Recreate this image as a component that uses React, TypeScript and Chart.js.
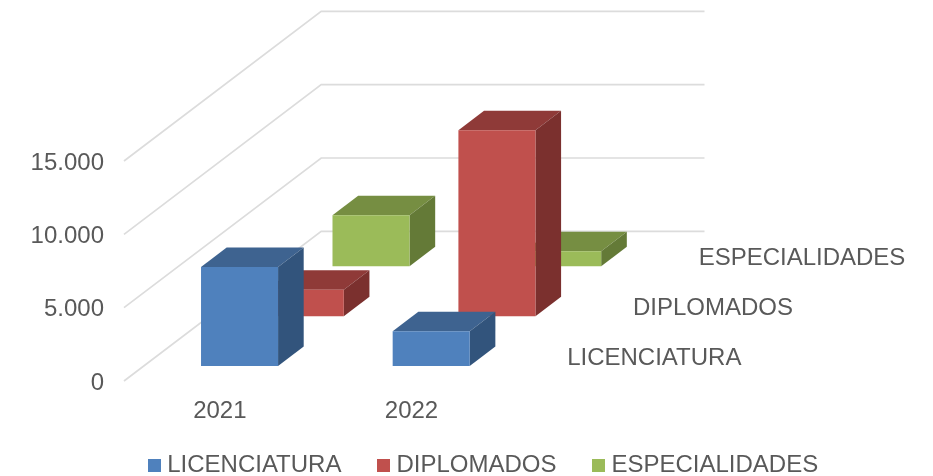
import React, { useEffect, useRef } from "react";
import { Chart, registerables } from "chart.js";

Chart.register(...registerables);

const years = ["2021", "2022"];
const seriesNames = ["LICENCIATURA", "DIPLOMADOS", "ESPECIALIDADES"];
const licenciatura = [6750, 2370];
const diplomados = [1800, 12670];
const especialidades = [3480, 1020];

const frontColors = ["#4F81BD", "#C0504D", "#9BBB59"];
const topColors = ["#3E6390", "#8F3A38", "#768E42"];
const sideColors = ["#32547C", "#7B302E", "#647A37"];
const textColor = "#595959";
const wallColor = "#DCDCDC";
const fontFamily = "'Liberation Sans', Arial, sans-serif";
const fontSize = 24;

// depth of one series row, as fraction of the category width / the plot height
const ROW_DX = 0.343;
const ROW_DY = 0.2268;
const INSET = 0.3;
const BAR_DEPTH = 0.39;

function rowVector(chart: any) {
  const { x, y } = chart.scales;
  const cell = x.getPixelForValue(1) - x.getPixelForValue(0);
  const h = y.getPixelForValue(0) - y.getPixelForValue(15000);
  return { dx: cell * ROW_DX, dy: -h * ROW_DY };
}

const poly = (ctx: CanvasRenderingContext2D, pts: number[][], color: string) => {
  ctx.beginPath();
  pts.forEach(([a, b], i) => (i ? ctx.lineTo(a, b) : ctx.moveTo(a, b)));
  ctx.closePath();
  ctx.fillStyle = color;
  ctx.fill();
};

const legendSwatch = (color: string) => {
  const c = document.createElement("canvas");
  c.width = 13;
  c.height = 13;
  const g = c.getContext("2d") as CanvasRenderingContext2D;
  g.fillStyle = color;
  g.fillRect(0, 0, 13, 13);
  return c;
};

const plot3d = {
  id: "plot3d",
  afterLayout(chart: any) {
    const legend = chart.legend;
    if (legend) {
      legend.top += 11.5;
      legend.bottom += 11.5;
      legend.left += 19.7;
      legend.right += 19.7;
    }
    // let the category labels reach below the thin axis box
    chart.scales.x.bottom = chart.height;
  },
  beforeDatasetsDraw(chart: any) {
    const { ctx, chartArea } = chart;
    const { dx, dy } = rowVector(chart);
    const n = seriesNames.length;
    ctx.save();
    ctx.strokeStyle = wallColor;
    ctx.lineWidth = 1.7;
    chart.scales.y.ticks.forEach((t: any) => {
      const py = chart.scales.y.getPixelForValue(t.value);
      ctx.beginPath();
      ctx.moveTo(chartArea.left, py);
      ctx.lineTo(chartArea.left + dx * n, py + dy * n);
      ctx.lineTo(chartArea.right + dx * n, py + dy * n);
      ctx.stroke();
    });
    ctx.restore();
  },
  beforeDatasetDraw(chart: any, args: any) {
    const { ctx } = chart;
    const i = args.index;
    const { dx, dy } = rowVector(chart);
    ctx.save();
    ctx.translate(dx * (i + INSET), dy * (i + INSET));
    const ox = dx * BAR_DEPTH;
    const oy = dy * BAR_DEPTH;
    args.meta.data.forEach((bar: any) => {
      const { x, y, base, width } = bar.getProps(["x", "y", "base", "width"], true);
      const l = x - width / 2;
      const r = x + width / 2;
      poly(ctx, [[l, y], [l + ox, y + oy], [r + ox, y + oy], [r, y]], topColors[i]);
      poly(ctx, [[r, y], [r + ox, y + oy], [r + ox, base + oy], [r, base]], sideColors[i]);
    });
  },
  afterDatasetDraw(chart: any) {
    chart.ctx.restore();
  },
  afterDatasetsDraw(chart: any) {
    const { ctx, chartArea } = chart;
    const { dx, dy } = rowVector(chart);
    ctx.save();
    ctx.font = `${fontSize}px ${fontFamily}`;
    ctx.fillStyle = textColor;
    ctx.textAlign = "left";
    ctx.textBaseline = "middle";
    seriesNames.forEach((name, i) => {
      ctx.fillText(name, chartArea.right + dx * (i + 0.5) + 27, chartArea.bottom + dy * (i + 0.5) + 2);
    });
    ctx.restore();
  },
};

export default function App() {
  const ref = useRef<HTMLCanvasElement>(null);
  useEffect(() => {
    const seriesValues = [licenciatura, diplomados, especialidades];
    const chart = new Chart(ref.current as HTMLCanvasElement, {
      type: "bar",
      data: {
        labels: years,
        datasets: seriesNames.map((label, i) => ({
          label,
          data: seriesValues[i],
          backgroundColor: frontColors[i],
          borderWidth: 0,
          clip: false,
          grouped: false,
          categoryPercentage: 1,
          barPercentage: 0.402,
        })),
      } as any,
      options: {
        responsive: false,
        animation: false,
        layout: { padding: { top: 161 } },
        plugins: {
          tooltip: { enabled: false },
          legend: {
            position: "bottom",
            labels: {
              usePointStyle: true,
              pointStyleWidth: 1,
              boxHeight: 13,
              padding: 42,
              color: textColor,
              font: { family: fontFamily, size: fontSize },
              generateLabels(c: any) {
                return (Chart.defaults.plugins.legend.labels as any)
                  .generateLabels(c)
                  .map((item: any, i: number) => ({ ...item, pointStyle: legendSwatch(frontColors[i]) }));
              },
            },
          },
        },
        scales: {
          x: {
            grid: { display: false },
            border: { display: false },
            ticks: {
              color: textColor,
              padding: 8,
              maxRotation: 0,
              font: { family: fontFamily, size: fontSize },
            },
            afterFit(s: any) {
              s.height = 95 - (s.chart.legend ? s.chart.legend.height : 0);
            },
          },
          y: {
            min: 0,
            max: 15000,
            grid: { display: false },
            border: { display: false },
            ticks: {
              stepSize: 5000,
              color: textColor,
              padding: 12,
              labelOffset: 2,
              font: { family: fontFamily, size: fontSize },
              callback: (v: any) => String(v).replace(/\B(?=(\d{3})+$)/g, "."),
            },
            afterFit(s: any) {
              s.width = 124;
            },
          },
          spacer: {
            type: "linear",
            position: "right",
            display: true,
            grid: { display: false },
            border: { display: false },
            ticks: { display: false },
            afterFit(s: any) {
              s.width = 425.7;
            },
          },
        },
      } as any,
      plugins: [plot3d],
    });
    return () => chart.destroy();
  }, []);
  return (
    <div style={{ position: "absolute", left: 0, top: 0, width: 933, height: 476 }}>
      <canvas ref={ref} width={933} height={476} style={{ display: "block" }} />
    </div>
  );
}
